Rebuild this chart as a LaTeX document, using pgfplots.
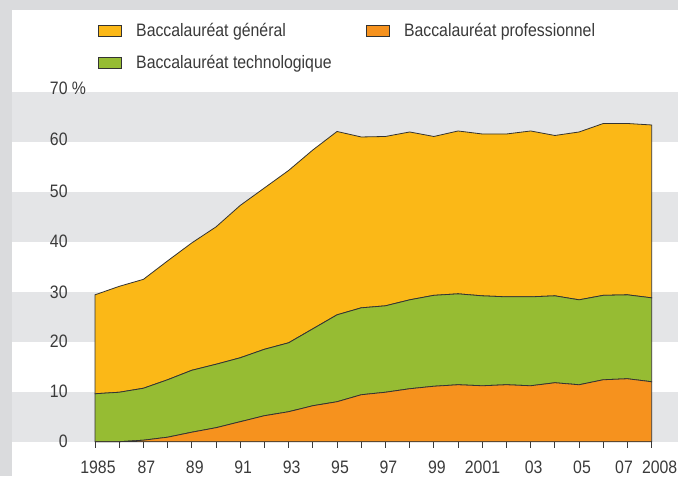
\documentclass[border=0pt]{standalone}
\usepackage{fontspec}
\setmainfont{Liberation Sans}[FakeStretch=0.88]
\usepackage{pgfplots}
\usepackage{pgfplotstable}
\pgfplotsset{compat=1.18}
\definecolor{cgen}{HTML}{FBB817}
\definecolor{ctech}{HTML}{96BC33}
\definecolor{cpro}{HTML}{F6921E}
\definecolor{bandgray}{HTML}{E4E5E7}
\definecolor{framegray}{HTML}{DADBDD}
\definecolor{textgray}{HTML}{3A3A3A}
\definecolor{outline}{HTML}{333333}

\pgfplotstableread{
year pro tech gen
1985 0.0 9.6 19.8
1986 0.0 9.9 21.2
1987 0.3 10.4 21.8
1988 0.9 11.5 23.8
1989 1.9 12.4 25.5
1990 2.8 12.7 27.5
1991 4.0 12.8 30.5
1992 5.2 13.3 32.3
1993 6.0 13.8 34.5
1994 7.2 15.4 35.8
1995 8.0 17.4 36.7
1996 9.4 17.4 34.2
1997 9.9 17.3 33.9
1998 10.6 17.8 33.6
1999 11.1 18.2 31.8
2000 11.4 18.2 32.6
2001 11.2 18.0 32.4
2002 11.4 17.6 32.6
2003 11.2 17.8 33.2
2004 11.8 17.4 32.1
2005 11.4 17.0 33.6
2006 12.4 16.9 34.4
2007 12.6 16.8 34.3
2008 12.0 16.8 34.6
}\bacdata

\begin{document}
\begin{tikzpicture}
\useasboundingbox (0,0) rectangle (339pt,238pt);
\fill[framegray] (0,0) rectangle (339pt,238pt);
\fill[white] (6pt,0) rectangle (339pt,233pt);
\fill[bandgray] (6pt,17.15pt) rectangle (339pt,42.13pt);
\fill[bandgray] (6pt,67.11pt) rectangle (339pt,92.09pt);
\fill[bandgray] (6pt,117.07pt) rectangle (339pt,142.05pt);
\fill[bandgray] (6pt,167.03pt) rectangle (339pt,192pt);
\begin{axis}[
  scale only axis, width=278.35pt, height=174.85pt,
  at={(47.5pt,17.15pt)}, anchor=south west,
  xmin=1985, xmax=2008, ymin=0, ymax=70,
  clip=false,
  axis x line*=bottom, axis y line*=left,
  y axis line style={draw=none},
  x axis line style={draw=textgray, line width=0.5pt},
  xtick={1985,...,2008},
  xticklabels={1985,,87,,89,,91,,93,,95,,97,,99,,2001\hspace*{2.7pt},,03,,05,,07\hspace*{6.4pt},\hspace*{5pt}2008},
  xtick align=outside, major tick length=3pt,
  xtick style={draw=textgray, line width=0.5pt},
  ytick={0,10,...,70},
  yticklabels={\raisebox{-2.5pt}{0},\raisebox{-2.5pt}{10},\raisebox{-1pt}{20},\raisebox{-1pt}{30},\raisebox{0.5pt}{40},\raisebox{1pt}{50},\raisebox{2.5pt}{60},\raisebox{3.5pt}{70\rlap{ \%}}},
  ytick align=inside, ytick style={draw=none},
  /pgf/number format/assume math mode=true,
  tick label style={font=\fontsize{9}{10}\selectfont, text=textgray},
  xticklabel style={inner sep=0pt, anchor=north, yshift=-6.2pt, xshift=1.5pt},
  yticklabel style={inner sep=0pt, anchor=east, xshift=-13.5pt},
  stack plots=y,
  legend columns=2,
  legend cell align=left,
  legend style={at={(axis description cs:0,1)}, anchor=north west,
    xshift=1.5pt, yshift=36.7pt, draw=none, fill=none,
    inner xsep=0pt, inner ysep=0pt,
    font=\fontsize{9}{10}\selectfont, text=textgray,
    row sep=4pt,
    /tikz/every odd column/.append style={column sep=5pt},
    /tikz/every even column/.append style={column sep=5pt}},
  legend image code/.code={\draw[#1, draw=outline, line width=0.4pt] (0pt,-2.75pt) rectangle (11.5pt,2.75pt);},
]
\addlegendimage{fill=cgen}
\addlegendentry{\makebox[108pt][l]{Baccalauréat général}}
\addlegendimage{fill=cpro}
\addlegendentry{Baccalauréat professionnel}
\addlegendimage{fill=ctech}
\addlegendentry{\makebox[108pt][l]{Baccalauréat technologique}}

\addplot[fill=cpro, draw=outline, line width=0.4pt, forget plot] table[x=year, y=pro]{\bacdata} \closedcycle;
\addplot[fill=ctech, draw=outline, line width=0.4pt, forget plot] table[x=year, y=tech]{\bacdata} \closedcycle;
\addplot[fill=cgen, draw=outline, line width=0.4pt, forget plot] table[x=year, y=gen]{\bacdata} \closedcycle;
\end{axis}
\end{tikzpicture}
\end{document}
